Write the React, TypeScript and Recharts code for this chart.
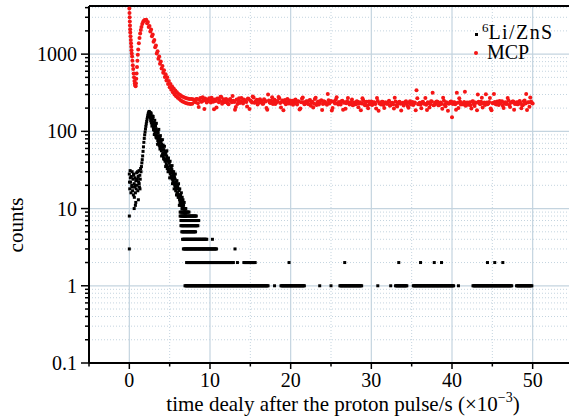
import { ScatterChart, Scatter, XAxis, YAxis, CartesianGrid, ReferenceLine, Legend, Label } from "recharts";

const FONT = '"Liberation Serif", "Times New Roman", serif';
const GRID = "#c4d4df";
const RED = "#f51616";

// x axis: time delay (×10^-3 s)
const xMajor = [0, 10, 20, 30, 40, 50];
const xMinor = [5, 15, 25, 35, 45];
const xTicks = [-5, 0, 5, 10, 15, 20, 25, 30, 35, 40, 45, 50, 55];

// y axis: counts (log)
const yMajor = [0.1, 1, 10, 100, 1000];
const yMajorLabels = ["0.1", "1", "10", "100", "1000"];
const yMinor = [
  0.2, 0.3, 0.4, 0.5, 0.6, 0.7, 0.8, 0.9,
  2, 3, 4, 5, 6, 7, 8, 9,
  20, 30, 40, 50, 60, 70, 80, 90,
  200, 300, 400, 500, 600, 700, 800, 900,
  2000, 3000, 4000,
];
const yTicks = [...yMajor, ...yMinor].sort((a, b) => a - b);

// MCP: first ~2 ms, [time, counts]
const mcpHead: [number, number][] = [
  [0.0, 3900], [0.02, 3400], [0.04, 3000], [0.06, 2650], [0.08, 2350], [0.1, 2100],
  [0.12, 1900], [0.15, 1700], [0.18, 1520], [0.21, 1380], [0.24, 1250], [0.27, 1120],
  [0.3, 1020], [0.34, 930], [0.38, 820], [0.43, 720], [0.48, 640], [0.53, 560],
  [0.58, 500], [0.63, 450], [0.68, 415], [0.73, 395], [0.78, 385], [0.82, 420],
  [0.86, 480], [0.9, 560], [0.95, 680], [1.0, 820], [1.05, 980], [1.1, 1150],
  [1.18, 1380], [1.26, 1620], [1.34, 1850], [1.42, 2050], [1.5, 2250], [1.6, 2450],
  [1.7, 2600], [1.8, 2700], [1.9, 2760], [2.0, 2750],
];

// MCP decay, 2.1 .. 7.9 every 0.1
const mcpDecay = [
  2780, 2520, 2600, 2250, 2310, 1960, 2080, 1700, 1800, 1450,
  1520, 1230, 1290, 1020, 1090, 870, 930, 750, 800, 650,
  700, 575, 620, 505, 550, 455, 500, 410, 450, 372,
  410, 345, 380, 322, 358, 300, 338, 285, 320, 272,
  305, 262, 295, 250, 285, 244, 278, 238, 272, 232,
  268, 230, 265, 228, 262, 226, 262, 228, 260,
];

// MCP flat part, 8.0 .. 50.0 every 0.2
const mcpTail = [
  255, 238, 262, 207, 270, 243, 251, 266, 236, 258,
  249, 272, 241, 258, 203, 264, 250, 279, 245, 238,
  262, 231, 255, 247, 286, 240, 206, 226, 268, 244,
  238, 259, 247, 209, 263, 251, 236, 274, 242, 256,
  233, 261, 245, 228, 252, 201, 300, 237, 249, 226,
  257, 235, 244, 268, 204, 251, 239, 224, 262, 241,
  228, 249, 236, 258, 222, 243, 198, 265, 238, 227,
  246, 224, 255, 237, 203, 262, 219, 244, 235, 252,
  226, 241, 232, 305, 229, 247, 200, 238, 256, 231,
  240, 223, 249, 234, 196, 245, 236, 227, 258, 221,
  235, 246, 205, 239, 229, 253, 217, 242, 199, 224,
  244, 226, 237, 198, 248, 230, 222, 241, 201, 236,
  228, 249, 219, 234, 197, 243, 210, 238, 227, 231,
  216, 240, 229, 202, 246, 233, 219, 237, 340, 224,
  235, 199, 242, 228, 221, 239, 203, 245, 315, 219,
  230, 242, 218, 236, 196, 249, 212, 233, 227, 241,
  152, 237, 225, 315, 200, 243, 230, 222, 326, 234,
  221, 238, 198, 246, 213, 235, 300, 229, 242, 204,
  236, 302, 224, 240, 197, 233, 305, 226, 244, 219,
  231, 245, 201, 238, 228, 250, 206, 236, 243, 226,
  239, 224, 247, 199, 220, 251, 305, 237, 208, 243,
  230,
];

// MCP flat part, odd bins 8.1 .. 49.9 every 0.2
const mcpTailOdd = [
  247, 262, 231, 256, 241, 277, 195, 253, 245, 268,
  236, 258, 193, 247, 266, 239, 280, 228, 261, 243,
  251, 224, 263, 238, 249, 190, 258, 241, 233, 270,
  229, 252, 240, 266, 194, 245, 282, 234, 248, 223,
  254, 239, 227, 261, 243, 191, 250, 232, 276, 238,
  226, 247, 279, 233, 241, 188, 255, 236, 229, 251,
  240, 221, 252, 230, 246, 192, 238, 274, 225, 244,
  233, 251, 214, 242, 228, 272, 236, 222, 247, 189,
  245, 230, 221, 252, 238, 186, 243, 229, 276, 222,
  228, 246, 190, 239, 231, 270, 222, 240, 218, 236,
  224, 241, 230, 187, 268, 226, 238, 215, 244, 232,
  219, 238, 226, 270, 185, 233, 242, 220, 236, 228,
  240, 215, 232, 224, 272, 218, 229, 241, 186, 235,
  227, 245, 213, 236, 222, 240, 228, 188, 269, 230,
  221, 238, 229, 271, 189, 232, 224, 243, 218, 237,
  244, 217, 235, 226, 273, 221, 238, 185, 231, 243,
  226, 239, 190, 234, 268, 222, 229, 240, 215, 236,
  232, 218, 244, 227, 236, 187, 241, 225, 272, 230,
  219, 237, 229, 270, 188, 231, 240, 222, 235, 247,
  238, 215, 233, 226, 271, 220, 236, 244, 190, 229,
  225, 241, 232, 218, 246, 229, 189, 238, 274, 233,
];

// 6Li/ZnS: early cluster, [time, counts]
const liHead: [number, number][] = [
  [0.0, 28], [0.05, 18], [0.1, 31], [0.15, 22], [0.2, 16], [0.25, 26], [0.3, 20],
  [0.35, 30], [0.4, 17], [0.45, 24], [0.5, 15], [0.55, 27], [0.6, 21], [0.65, 19],
  [0.7, 25], [0.75, 16], [0.8, 23], [0.85, 18], [0.9, 29], [0.95, 20], [1.0, 24],
  [1.05, 17], [1.1, 26], [1.15, 22], [1.2, 31], [1.25, 19], [1.3, 27], [1.35, 24],
  [1.4, 33], [0.02, 22], [0.12, 25], [0.32, 19], [0.52, 28], [0.62, 14], [0.72, 20],
  [0.92, 23], [1.02, 30], [1.12, 13], [1.22, 21], [1.32, 18],
  [0.0, 8], [0.0, 3], [0.6, 10], [0.75, 11], [0.8, 12],
];

// 6Li/ZnS rise, 1.45 .. 2.45 every 0.05
const liRise = [30, 35, 39, 43, 48, 55, 63, 72, 81, 90, 98, 107, 116, 125, 134, 144, 153, 162, 170, 176, 181];

// 6Li/ZnS fall, 2.50 .. 7.00 every 0.05
const liFall = [
  178, 155, 175, 137, 172, 139, 117, 158, 130, 156,
  105, 130, 91, 139, 103, 119, 84, 127, 86, 97,
  68, 102, 81, 106, 66, 83, 59, 88, 64, 77,
  48, 65, 78, 52, 66, 44, 52, 64, 43, 53,
  35, 54, 41, 56, 33, 42, 30, 45, 32, 40,
  25, 41, 31, 25, 35, 26, 36, 21, 28, 22,
  30, 18, 25, 21, 28, 17, 21, 15, 23, 16,
  20, 14, 21, 15, 11, 18, 12, 15, 11, 16,
  11, 14, 10, 13, 10, 8, 12, 9, 10, 8,
  10,
];

// 6Li/ZnS fall, in-between bins 2.525 .. 6.975 every 0.05
const liFallMid = [
  160, 170, 148, 165, 128, 150, 135, 124, 146, 112,
  128, 104, 120, 98, 116, 90, 108, 82, 100, 88,
  76, 95, 70, 86, 74, 64, 80, 60, 72, 56,
  68, 58, 50, 63, 47, 58, 44, 55, 41, 50,
  44, 38, 48, 36, 45, 34, 42, 32, 39, 30,
  36, 28, 34, 29, 26, 32, 24, 30, 23, 27,
  21, 26, 20, 24, 19, 22, 18, 20, 16, 19,
  15, 18, 14, 17, 13, 15, 12, 14, 12, 13,
  10, 12, 11, 10, 11, 9, 10, 9, 8, 9,
];

// 6Li/ZnS low counts: [counts, from, to], bins of 0.1
const liRuns: [number, number, number][] = [
  [9, 6.3, 7.4], [8, 6.3, 8.3], [7, 6.4, 8.6], [6, 6.4, 8.5], [5, 6.5, 8.2],
  [4, 6.6, 9.6], [4, 10.3, 10.3],
  [3, 6.7, 10.8], [3, 13.1, 13.1],
  [2, 7.1, 12.9], [2, 13.4, 13.4], [2, 14.2, 15.6], [2, 19.8, 19.8], [2, 26.7, 26.7],
  [2, 33.4, 33.4], [2, 36.1, 36.1], [2, 37.8, 37.8], [2, 38.7, 38.7], [2, 44.4, 44.4],
  [2, 45.3, 45.3], [2, 46.3, 46.3],
  [1, 6.9, 17.2], [1, 18.0, 18.0], [1, 18.8, 21.7], [1, 23.6, 23.6], [1, 25.0, 25.0],
  [1, 26.1, 28.8], [1, 30.8, 30.8], [1, 32.4, 32.4], [1, 33.0, 34.4], [1, 35.2, 40.2],
  [1, 40.8, 40.8], [1, 42.6, 47.4], [1, 48.0, 49.9],
];

const r3 = (v: number) => Math.round(v * 1000) / 1000;

const mcpData = [
  ...mcpHead.map(([x, y]) => ({ x, y })),
  ...mcpDecay.map((y, i) => ({ x: r3(2.1 + i * 0.1), y })),
  ...mcpTail.map((y, i) => ({ x: r3(8 + i * 0.2), y })),
  ...mcpTailOdd.map((y, i) => ({ x: r3(8.1 + i * 0.2), y })),
];

const liData = [
  ...liHead.map(([x, y]) => ({ x, y })),
  ...liRise.map((y, i) => ({ x: r3(1.45 + i * 0.05), y })),
  ...liFall.map((y, i) => ({ x: r3(2.5 + i * 0.05), y })),
  ...liFallMid.map((y, i) => ({ x: r3(2.525 + i * 0.05), y })),
  ...liRuns.flatMap(([y, from, to]) => {
    const pts: { x: number; y: number }[] = [];
    for (let x = from; x <= to + 1e-6; x += 0.1) pts.push({ x: r3(x), y });
    return pts;
  }),
];

function XTick({ x, y, payload }: any) {
  const v = payload.value;
  const major = xMajor.includes(v);
  return (
    <g>
      <line x1={x} x2={x} y1={y} y2={y + (major ? 6 : 3.5)} stroke="#000" strokeWidth={1.5} />
      {major && (
        <text x={x} y={y + 24} textAnchor="middle" fontSize={20} fontFamily={FONT} fill="#000">
          {v}
        </text>
      )}
    </g>
  );
}

function YTick({ x, y, payload }: any) {
  const v = payload.value;
  const idx = yMajor.indexOf(v);
  const major = idx >= 0;
  return (
    <g>
      <line x1={x} x2={x - (major ? 8 : 4)} y1={y} y2={y} stroke="#000" strokeWidth={1.5} />
      {major && (
        <text x={x - 12} y={y + 7} textAnchor="end" fontSize={20} fontFamily={FONT} fill="#000">
          {yMajorLabels[idx]}
        </text>
      )}
    </g>
  );
}

const LiMark = (p: any) => <rect x={p.cx - 1.5} y={p.cy - 1.5} width={3} height={3} fill="#000" />;
const McpMark = (p: any) => <circle cx={p.cx} cy={p.cy} r={2} fill={RED} />;

function LegendBox() {
  return (
    <div style={{ fontFamily: FONT, fontSize: 20, lineHeight: "20px", color: "#000", width: 95 }}>
      <div style={{ position: "relative", height: 20 }}>
        <span style={{ position: "absolute", left: 5, top: 11, width: 3, height: 3, background: "#000" }} />
        <span style={{ position: "absolute", left: 12, top: 0, whiteSpace: "nowrap" }}>
          <span style={{ fontSize: 13, position: "relative", top: -7 }}>6</span>
          <span style={{ letterSpacing: 1.4 }}>Li/ZnS</span>
        </span>
      </div>
      <div style={{ position: "relative", height: 20 }}>
        <span
          style={{ position: "absolute", left: 3.5, top: 9, width: 4, height: 4, borderRadius: 2, background: RED }}
        />
        <span style={{ position: "absolute", left: 17, top: 0 }}>MCP</span>
      </div>
    </div>
  );
}

export default function App() {
  return (
    <div style={{ position: "absolute", left: 0, top: 0, width: 569, height: 420, overflow: "hidden", background: "#fff" }}>
      <ScatterChart width={600} height={420} margin={{ top: 6, right: 27, bottom: 0, left: 0 }}>
        <CartesianGrid
          stroke={GRID}
          strokeDasharray="1 2"
          horizontalValues={yMinor}
          verticalValues={xMinor}
        />
        <CartesianGrid stroke={GRID} strokeWidth={1.2} horizontalValues={[1, 10, 100, 1000]} verticalValues={xMajor} />
        <XAxis
          type="number"
          dataKey="x"
          domain={[-5, 55]}
          ticks={xTicks}
          interval={0}
          allowDataOverflow
          height={57}
          tickSize={0}
          tickMargin={0}
          tickLine={false}
          tick={<XTick />}
          axisLine={{ stroke: "#000", strokeWidth: 2 }}
        >
          <Label
            content={() => (
              <text x={343} y={411} textAnchor="middle" fontSize={21} fontFamily={FONT} fill="#000">
                time dealy after the proton pulse/s (×10
                <tspan dy={-9} fontSize={14}>−3</tspan>
                <tspan dy={9}>)</tspan>
              </text>
            )}
          />
        </XAxis>
        <YAxis
          type="number"
          dataKey="y"
          scale="log"
          domain={[0.1, 4200]}
          ticks={yTicks}
          interval={0}
          allowDataOverflow
          width={89}
          tickSize={0}
          tickMargin={0}
          tickLine={false}
          tick={<YTick />}
          axisLine={{ stroke: "#000", strokeWidth: 2 }}
        >
          <Label
            content={() => (
              <text
                x={23}
                y={225}
                transform="rotate(-90 23 225)"
                textAnchor="middle"
                fontSize={21}
                fontFamily={FONT}
                fill="#000"
              >
                counts
              </text>
            )}
          />
        </YAxis>
        <ReferenceLine y={4200} stroke="#000" strokeWidth={2} ifOverflow="visible" />
        <ReferenceLine x={55} stroke="#000" strokeWidth={2} ifOverflow="visible" />
        <Scatter name="6Li/ZnS" data={liData} shape={LiMark} isAnimationActive={false} />
        <Scatter name="MCP" data={mcpData} shape={McpMark} isAnimationActive={false} />
        <Legend
          layout="vertical"
          align="center"
          verticalAlign="middle"
          content={() => <LegendBox />}
          wrapperStyle={{ left: 470, top: 22, width: 95 }}
        />
      </ScatterChart>
    </div>
  );
}
